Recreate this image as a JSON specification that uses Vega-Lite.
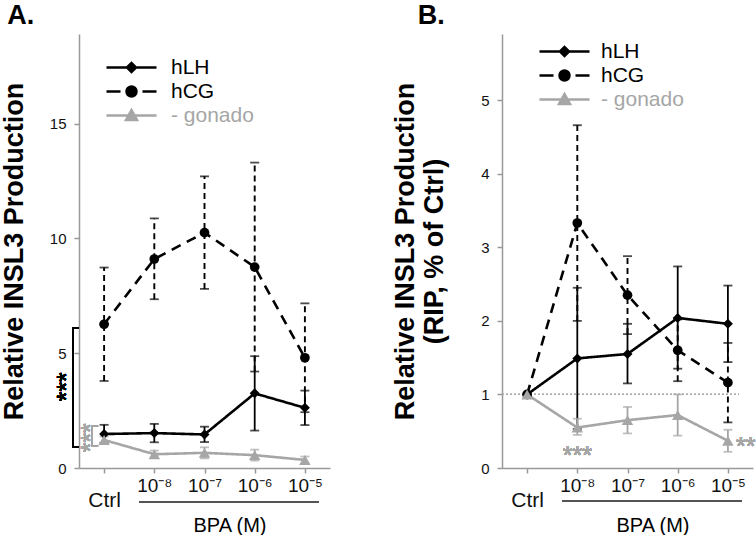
{
  "$schema": "https://vega.github.io/schema/vega-lite/v6.json",
  "background": "white",
  "padding": {"left": 0, "top": 2, "right": 0, "bottom": 0},
  "spacing": 61,
  "config": {
    "font": "Liberation Sans",
    "view": {"stroke": null},
    "axis": {"grid": false, "domainColor": "#999999", "tickColor": "#999999", "domainWidth": 1.5, "tickWidth": 1.5, "labelColor": "#111111", "titleColor": "#000000"},
    "title": {"fontSize": 27, "fontWeight": "bold", "color": "#000000"}
  },
  "resolve": {"scale": {"color": "independent"}, "legend": {"color": "independent"}},
  "hconcat": [
    {
      "width": 251,
      "height": 434,
      "title": {"text": "A.", "anchor": "start", "frame": "bounds", "offset": 4, "dx": 7},
      "data": {"values": [
        {"series": "hCG", "dose": "Ctrl", "xi": 0, "mean": 6.26, "lo": 3.79, "hi": 8.73},
        {"series": "hCG", "dose": "1e-8", "xi": 1, "mean": 9.1, "lo": 7.35, "hi": 10.87},
        {"series": "hCG", "dose": "1e-7", "xi": 2, "mean": 10.25, "lo": 7.8, "hi": 12.7},
        {"series": "hCG", "dose": "1e-6", "xi": 3, "mean": 8.75, "lo": 4.2, "hi": 13.3},
        {"series": "hCG", "dose": "1e-5", "xi": 4, "mean": 4.8, "lo": 2.43, "hi": 7.17},
        {"series": "hLH", "dose": "Ctrl", "xi": 0, "mean": 1.48, "lo": 1.1, "hi": 1.88},
        {"series": "hLH", "dose": "1e-8", "xi": 1, "mean": 1.52, "lo": 1.12, "hi": 1.92},
        {"series": "hLH", "dose": "1e-7", "xi": 2, "mean": 1.46, "lo": 1.13, "hi": 1.8},
        {"series": "hLH", "dose": "1e-6", "xi": 3, "mean": 3.25, "lo": 1.63, "hi": 4.87},
        {"series": "hLH", "dose": "1e-5", "xi": 4, "mean": 2.62, "lo": 1.87, "hi": 3.37},
        {"series": "- gonado", "dose": "Ctrl", "xi": 0, "mean": 1.22, "lo": 1.07, "hi": 1.37},
        {"series": "- gonado", "dose": "1e-8", "xi": 1, "mean": 0.6, "lo": 0.45, "hi": 0.76},
        {"series": "- gonado", "dose": "1e-7", "xi": 2, "mean": 0.66, "lo": 0.42, "hi": 0.9},
        {"series": "- gonado", "dose": "1e-6", "xi": 3, "mean": 0.56, "lo": 0.32, "hi": 0.8},
        {"series": "- gonado", "dose": "1e-5", "xi": 4, "mean": 0.35, "lo": 0.2, "hi": 0.5}
      ]},
      "layer": [
        {
          "transform": [{"filter": "datum.series == 'hCG' && datum.hi > datum.lo"}],
          "mark": {"type": "rule", "strokeDash": [6, 4], "strokeWidth": 1.9, "color": "#000000"},
          "encoding": {
            "x": {"field": "xi", "type": "quantitative", "scale": {"domain": [-0.5, 4.5], "nice": false, "zero": false},
              "axis": {"title": "BPA (M)", "titleX": 150.5, "titleY": 63, "titleBaseline": "alphabetic", "titleFontSize": 20, "titleFontWeight": "normal",
                "values": [0, 1, 2, 3, 4],
                "labelFontSize": {"condition": {"test": "datum.value == 0", "value": 21}, "value": 19}, "labelBaseline": "alphabetic", "labelPadding": 18, "labelLineHeight": 15, "tickSize": 5, "labelAngle": 0, "labelFlush": false, "labelOverlap": false,
                "labelExpr": "datum.value == 0 ? ['', 'Ctrl'] : '10' + ['', '⁻⁸', '⁻⁷', '⁻⁶', '⁻⁵'][datum.value]"}},
            "y": {"field": "lo", "type": "quantitative", "scale": {"domain": [0, 18.9], "nice": false},
              "axis": {"title": "Relative INSL3 Production", "titleFontSize": 27, "titleFontWeight": "bold", "titlePadding": 21, "format": "d",
                "values": [0, 5, 10, 15], "labelFontSize": 15, "tickSize": 5, "labelPadding": 8}},
            "y2": {"field": "hi"}
          }
        },
        {
          "transform": [{"filter": "datum.series != 'hCG' && datum.hi > datum.lo"}],
          "mark": {"type": "rule", "strokeWidth": 1.8},
          "encoding": {
            "x": {"field": "xi", "type": "quantitative"},
            "y": {"field": "lo", "type": "quantitative"}, "y2": {"field": "hi"},
            "color": {"condition": {"test": "datum.series == '- gonado'", "value": "#a6a6a6"}, "value": "#000000"}
          }
        },
        {
          "transform": [{"filter": "datum.hi > datum.lo"}, {"fold": ["lo", "hi"], "as": ["bound", "val"]}],
          "mark": {"type": "tick", "orient": "horizontal", "size": 9, "thickness": 1.8},
          "encoding": {
            "x": {"field": "xi", "type": "quantitative"},
            "y": {"field": "val", "type": "quantitative"},
            "color": {"condition": {"test": "datum.series == '- gonado'", "value": "#a6a6a6"}, "value": "#000000"}
          }
        },
        {
          "mark": {"type": "line", "strokeWidth": 2.6},
          "encoding": {
            "x": {"field": "xi", "type": "quantitative"},
            "y": {"field": "mean", "type": "quantitative"},
            "color": {"field": "series", "type": "nominal", "scale": {"domain": ["hLH", "hCG", "- gonado"], "range": ["#000000", "#000000", "#a6a6a6"]},
              "legend": {"orient": "none", "legendX": 41, "legendY": 22, "title": null, "padding": 0, "labelFontSize": 21, "labelOffset": 28, "symbolSize": 400, "rowPadding": 2, "symbolStrokeWidth": 2.5,
                "encode": {
                  "symbols": {"update": {
                    "shape": {"signal": "datum.value == 'hLH' ? 'M-2.5,0H2.5M-0.45,0L0,-0.45L0.45,0L0,0.45Z' : datum.value == 'hCG' ? 'M-2.5,0H-1.1M1.1,0H2.5M0.5,0A0.5,0.5,0,1,1,-0.5,0A0.5,0.5,0,1,1,0.5,0Z' : 'M-2.5,0H2.5M0,-0.55L0.55,0.45L-0.55,0.45Z'"},
                    "fill": {"signal": "datum.value == '- gonado' ? '#a6a6a6' : '#000000'"},
                    "stroke": {"signal": "datum.value == '- gonado' ? '#a6a6a6' : '#000000'"},
                    "strokeWidth": {"value": 2.5},
                    "opacity": {"value": 1}
                  }},
                  "labels": {"update": {"fill": {"signal": "datum.value == '- gonado' ? '#a6a6a6' : '#000000'"}}}
                }}},
            "strokeDash": {"condition": {"test": "datum.series == 'hCG'", "value": [10, 7]}, "value": [1, 0]}
          }
        },
        {
          "mark": {"type": "point", "filled": true, "opacity": 1},
          "encoding": {
            "x": {"field": "xi", "type": "quantitative"},
            "y": {"field": "mean", "type": "quantitative"},
            "color": {"condition": {"test": "datum.series == '- gonado'", "value": "#a6a6a6"}, "value": "#000000"},
            "shape": {"condition": [{"test": "datum.series == 'hLH'", "value": "diamond"}, {"test": "datum.series == 'hCG'", "value": "circle"}], "value": "triangle-up"},
            "size": {"condition": [{"test": "datum.series == 'hLH'", "value": 100}, {"test": "datum.series == 'hCG'", "value": 95}], "value": 130}
          }
        },
        {
          "mark": {"type": "rule", "strokeWidth": 1.8, "color": "#000000"},
          "encoding": {"x": {"datum": -0.62}, "y": {"datum": 0.92}, "y2": {"datum": 6.1}}
        },
        {
          "mark": {"type": "rule", "strokeWidth": 1.8, "color": "#000000"},
          "encoding": {"x": {"datum": -0.635}, "x2": {"datum": -0.5}, "y": {"datum": 6.1}}
        },
        {
          "mark": {"type": "rule", "strokeWidth": 1.8, "color": "#000000"},
          "encoding": {"x": {"datum": -0.635}, "x2": {"datum": -0.5}, "y": {"datum": 0.92}}
        },
        {
          "mark": {"type": "rule", "strokeWidth": 1.5, "color": "#a6a6a6"},
          "encoding": {"x": {"datum": -0.24}, "y": {"datum": 0.96}, "y2": {"datum": 1.83}}
        },
        {
          "mark": {"type": "rule", "strokeWidth": 1.5, "color": "#a6a6a6"},
          "encoding": {"x": {"datum": -0.25}, "x2": {"datum": -0.12}, "y": {"datum": 1.83}}
        },
        {
          "mark": {"type": "rule", "strokeWidth": 1.5, "color": "#a6a6a6"},
          "encoding": {"x": {"datum": -0.25}, "x2": {"datum": -0.12}, "y": {"datum": 0.96}}
        },
        {
          "mark": {"type": "text", "text": "***", "angle": 270, "fontSize": 25, "color": "#000000", "align": "center", "baseline": "middle"},
          "encoding": {"x": {"datum": -0.74}, "y": {"datum": 3.53}}
        },
        {
          "mark": {"type": "text", "text": "***", "angle": 270, "fontSize": 25, "color": "#a6a6a6", "align": "center", "baseline": "middle"},
          "encoding": {"x": {"datum": -0.27}, "y": {"datum": 1.31}}
        },
        {
          "mark": {"type": "rule", "strokeWidth": 1.5, "color": "#555555"},
          "encoding": {"x": {"datum": 0.7}, "x2": {"datum": 4.28}, "y": {"datum": -1.48}}
        }
      ]
    },
    {
      "width": 251,
      "height": 434,
      "title": {"text": "B.", "anchor": "start", "frame": "bounds", "offset": 4, "dx": 26},
      "data": {"values": [
        {"series": "hCG", "dose": "Ctrl", "xi": 0, "mean": 1.0, "lo": 1.0, "hi": 1.0},
        {"series": "hCG", "dose": "1e-8", "xi": 1, "mean": 3.33, "lo": 2.0, "hi": 4.66},
        {"series": "hCG", "dose": "1e-7", "xi": 2, "mean": 2.35, "lo": 1.82, "hi": 2.88},
        {"series": "hCG", "dose": "1e-6", "xi": 3, "mean": 1.6, "lo": 1.18, "hi": 2.02},
        {"series": "hCG", "dose": "1e-5", "xi": 4, "mean": 1.16, "lo": 0.62, "hi": 1.7},
        {"series": "hLH", "dose": "Ctrl", "xi": 0, "mean": 1.0, "lo": 1.0, "hi": 1.0},
        {"series": "hLH", "dose": "1e-8", "xi": 1, "mean": 1.49, "lo": 0.53, "hi": 2.45},
        {"series": "hLH", "dose": "1e-7", "xi": 2, "mean": 1.55, "lo": 1.15, "hi": 1.96},
        {"series": "hLH", "dose": "1e-6", "xi": 3, "mean": 2.04, "lo": 1.35, "hi": 2.74},
        {"series": "hLH", "dose": "1e-5", "xi": 4, "mean": 1.96, "lo": 1.44, "hi": 2.48},
        {"series": "- gonado", "dose": "Ctrl", "xi": 0, "mean": 1.0, "lo": 1.0, "hi": 1.0},
        {"series": "- gonado", "dose": "1e-8", "xi": 1, "mean": 0.55, "lo": 0.45, "hi": 0.67},
        {"series": "- gonado", "dose": "1e-7", "xi": 2, "mean": 0.65, "lo": 0.47, "hi": 0.83},
        {"series": "- gonado", "dose": "1e-6", "xi": 3, "mean": 0.72, "lo": 0.44, "hi": 1.0},
        {"series": "- gonado", "dose": "1e-5", "xi": 4, "mean": 0.37, "lo": 0.22, "hi": 0.52}
      ]},
      "layer": [
        {
          "transform": [{"filter": "datum.series == 'hCG' && datum.hi > datum.lo"}],
          "mark": {"type": "rule", "strokeDash": [6, 4], "strokeWidth": 1.9, "color": "#000000"},
          "encoding": {
            "x": {"field": "xi", "type": "quantitative", "scale": {"domain": [-0.5, 4.5], "nice": false, "zero": false},
              "axis": {"title": "BPA (M)", "titleX": 150.5, "titleY": 63, "titleBaseline": "alphabetic", "titleFontSize": 20, "titleFontWeight": "normal",
                "values": [0, 1, 2, 3, 4],
                "labelFontSize": {"condition": {"test": "datum.value == 0", "value": 21}, "value": 19}, "labelBaseline": "alphabetic", "labelPadding": 18, "labelLineHeight": 15, "tickSize": 5, "labelAngle": 0, "labelFlush": false, "labelOverlap": false,
                "labelExpr": "datum.value == 0 ? ['', 'Ctrl'] : '10' + ['', '⁻⁸', '⁻⁷', '⁻⁶', '⁻⁵'][datum.value]"}},
            "y": {"field": "lo", "type": "quantitative", "scale": {"domain": [0, 5.9], "nice": false},
              "axis": {"title": ["Relative INSL3 Production", "(RIP, % of Ctrl)"], "titleFontSize": 27, "titleFontWeight": "bold", "titlePadding": 32, "titleLineHeight": 29, "format": "d",
                "values": [0, 1, 2, 3, 4, 5], "labelFontSize": 15, "tickSize": 5, "labelPadding": 8}},
            "y2": {"field": "hi"}
          }
        },
        {
          "mark": {"type": "rule", "strokeWidth": 1, "color": "#aaaaaa", "strokeDash": [2, 2]},
          "encoding": {"x": {"datum": -0.5}, "x2": {"datum": 4.22}, "y": {"datum": 1}}
        },
        {
          "transform": [{"filter": "datum.series != 'hCG' && datum.hi > datum.lo"}],
          "mark": {"type": "rule", "strokeWidth": 1.8},
          "encoding": {
            "x": {"field": "xi", "type": "quantitative"},
            "y": {"field": "lo", "type": "quantitative"}, "y2": {"field": "hi"},
            "color": {"condition": {"test": "datum.series == '- gonado'", "value": "#a6a6a6"}, "value": "#000000"}
          }
        },
        {
          "transform": [{"filter": "datum.hi > datum.lo"}, {"fold": ["lo", "hi"], "as": ["bound", "val"]}],
          "mark": {"type": "tick", "orient": "horizontal", "size": 9, "thickness": 1.8},
          "encoding": {
            "x": {"field": "xi", "type": "quantitative"},
            "y": {"field": "val", "type": "quantitative"},
            "color": {"condition": {"test": "datum.series == '- gonado'", "value": "#a6a6a6"}, "value": "#000000"}
          }
        },
        {
          "mark": {"type": "line", "strokeWidth": 2.6},
          "encoding": {
            "x": {"field": "xi", "type": "quantitative"},
            "y": {"field": "mean", "type": "quantitative"},
            "color": {"field": "series", "type": "nominal", "scale": {"domain": ["hLH", "hCG", "- gonado"], "range": ["#000000", "#000000", "#a6a6a6"]},
              "legend": {"orient": "none", "legendX": 51, "legendY": 6, "title": null, "padding": 0, "labelFontSize": 21, "labelOffset": 25, "symbolSize": 400, "rowPadding": 2, "symbolStrokeWidth": 2.5,
                "encode": {
                  "symbols": {"update": {
                    "shape": {"signal": "datum.value == 'hLH' ? 'M-2.5,0H2.5M-0.45,0L0,-0.45L0.45,0L0,0.45Z' : datum.value == 'hCG' ? 'M-2.5,0H-1.1M1.1,0H2.5M0.5,0A0.5,0.5,0,1,1,-0.5,0A0.5,0.5,0,1,1,0.5,0Z' : 'M-2.5,0H2.5M0,-0.55L0.55,0.45L-0.55,0.45Z'"},
                    "fill": {"signal": "datum.value == '- gonado' ? '#a6a6a6' : '#000000'"},
                    "stroke": {"signal": "datum.value == '- gonado' ? '#a6a6a6' : '#000000'"},
                    "strokeWidth": {"value": 2.5},
                    "opacity": {"value": 1}
                  }},
                  "labels": {"update": {"fill": {"signal": "datum.value == '- gonado' ? '#a6a6a6' : '#000000'"}}}
                }}},
            "strokeDash": {"condition": {"test": "datum.series == 'hCG'", "value": [10, 7]}, "value": [1, 0]}
          }
        },
        {
          "mark": {"type": "point", "filled": true, "opacity": 1},
          "encoding": {
            "x": {"field": "xi", "type": "quantitative"},
            "y": {"field": "mean", "type": "quantitative"},
            "color": {"condition": {"test": "datum.series == '- gonado'", "value": "#a6a6a6"}, "value": "#000000"},
            "shape": {"condition": [{"test": "datum.series == 'hLH'", "value": "diamond"}, {"test": "datum.series == 'hCG'", "value": "circle"}], "value": "triangle-up"},
            "size": {"condition": [{"test": "datum.series == 'hLH'", "value": 100}, {"test": "datum.series == 'hCG'", "value": 95}], "value": 130}
          }
        },
        {
          "mark": {"type": "text", "text": "***", "fontSize": 25, "color": "#a6a6a6", "align": "center", "baseline": "middle"},
          "encoding": {"x": {"datum": 1}, "y": {"datum": 0.16}}
        },
        {
          "mark": {"type": "text", "text": "**", "fontSize": 25, "color": "#a6a6a6", "align": "left", "baseline": "middle"},
          "encoding": {"x": {"datum": 4.16}, "y": {"datum": 0.28}}
        },
        {
          "mark": {"type": "rule", "strokeWidth": 1.5, "color": "#555555"},
          "encoding": {"x": {"datum": 0.7}, "x2": {"datum": 4.28}, "y": {"datum": -0.45}}
        }
      ]
    }
  ]
}
